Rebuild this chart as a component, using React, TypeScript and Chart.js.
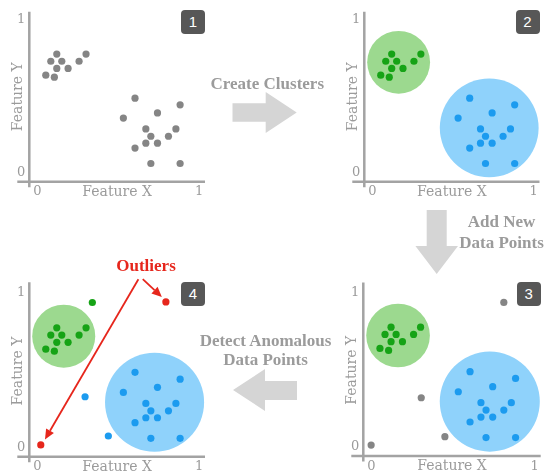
import React, { useEffect, useRef } from "react";
import { Chart, registerables } from "chart.js";

Chart.register(...registerables);

// ---------- data (feature space 0..1) ----------
const tickValues = [0, 1];

const clusterAX = [0.12, 0.083, 0.151, 0.12, 0.19, 0.052, 0.105, 0.258, 0.301];
const clusterAY = [0.774, 0.727, 0.727, 0.68, 0.68, 0.636, 0.623, 0.727, 0.774];

const clusterBX = [0.604, 0.883, 0.532, 0.743, 0.671, 0.857, 0.702, 0.811, 0.671, 0.743, 0.604, 0.702, 0.883];
const clusterBY = [0.486, 0.442, 0.356, 0.389, 0.285, 0.285, 0.237, 0.237, 0.192, 0.192, 0.16, 0.059, 0.059];

// panel 3: new (unlabelled) points
const newPointsX = [0.811, 0.305, 0.45, -0.002];
const newPointsY = [0.934, 0.317, 0.065, 0.011];

// panel 4: classified new points
const newGreenX = [0.34];
const newGreenY = [0.938];
const newBlueX = [0.295, 0.439];
const newBlueY = [0.328, 0.074];
const outlierX = [0.795, 0.021];
const outlierY = [0.942, 0.016];

// cluster circles: centre and radius (in x units)
const circleGreen = { x: 0.163, y: 0.72, r: 0.195 };
const circleBlue = { x: 0.725, y: 0.292, r: 0.3065 };

// outlier annotation arrows (start -> tip)
const outlierArrowStartX = [0.625, 0.652];
const outlierArrowStartY = [1.089, 1.089];
const outlierArrowEndX = [0.047, 0.77];
const outlierArrowEndY = [0.052, 0.974];

// ---------- styles ----------
const X_MIN = -0.05;
const X_MAX = 1.037;
const Y_MIN = -0.06;
const Y_MAX = 1.05;
const PLOT_H = 172;

const TEXT_GRAY = "#9b9b9b";
const AXIS_GRAY = "#a3a3a3";
const POINT_GRAY = "#858585";
const GREEN = "#16a316";
const GREEN_FILL = "#9cd98f";
const BLUE = "#1c9bef";
const BLUE_FILL = "#8fd2fb";
const RED = "#e6261c";
const ARROW_GRAY = "#d5d5d5";

type DS = { xs: number[]; ys: number[]; color: string };
type Circ = { x: number; y: number; r: number; color: string };

interface PanelProps {
  left: number;
  top: number;
  width: number;
  height: number;
  axisX: number;
  axisY: number;
  plotRight: number;
  lineTopExtra: number;
  datasets: DS[];
  circles: Circ[];
  arrows: boolean;
  badge: string;
}

function Panel(p: PanelProps) {
  const ref = useRef<HTMLCanvasElement>(null);
  useEffect(() => {
    const canvas = ref.current;
    if (!canvas) return;
    const plotTop = p.axisY - PLOT_H;
    const tickSize = 13;
    const titleSize = 14;
    const tickLH = tickSize * 1.2;
    const titleLH = titleSize * 1.2;

    const decor = {
      id: "decor",
      beforeDatasetsDraw(chart: any) {
        const { ctx, chartArea, scales } = chart;
        const xs = scales.x;
        const ys = scales.y;
        ctx.save();
        // axes
        ctx.strokeStyle = AXIS_GRAY;
        ctx.lineWidth = 2.5;
        ctx.beginPath();
        ctx.moveTo(chartArea.left, chartArea.top - p.lineTopExtra);
        ctx.lineTo(chartArea.left, chartArea.bottom + 5.5);
        ctx.moveTo(chartArea.left - 12, chartArea.bottom);
        ctx.lineTo(chartArea.right, chartArea.bottom);
        ctx.stroke();
        // circles
        p.circles.forEach((c) => {
          const cx = xs.getPixelForValue(c.x);
          const cy = ys.getPixelForValue(c.y);
          const r = xs.getPixelForValue(c.x + c.r) - cx;
          ctx.fillStyle = c.color;
          ctx.beginPath();
          ctx.arc(cx, cy, r, 0, Math.PI * 2);
          ctx.fill();
        });
        ctx.restore();
      },
      afterDatasetsDraw(chart: any) {
        if (!p.arrows) return;
        const { ctx, scales } = chart;
        const xs = scales.x;
        const ys = scales.y;
        ctx.save();
        ctx.strokeStyle = RED;
        ctx.fillStyle = RED;
        ctx.lineWidth = 1.8;
        outlierArrowStartX.forEach((_, i) => {
          const x1 = xs.getPixelForValue(outlierArrowStartX[i]);
          const y1 = ys.getPixelForValue(outlierArrowStartY[i]);
          const x2 = xs.getPixelForValue(outlierArrowEndX[i]);
          const y2 = ys.getPixelForValue(outlierArrowEndY[i]);
          const ang = Math.atan2(y2 - y1, x2 - x1);
          const hl = 10;
          const hw = 4.5;
          const bx = x2 - hl * Math.cos(ang);
          const by = y2 - hl * Math.sin(ang);
          ctx.beginPath();
          ctx.moveTo(x1, y1);
          ctx.lineTo(bx, by);
          ctx.stroke();
          ctx.beginPath();
          ctx.moveTo(x2, y2);
          ctx.lineTo(bx + hw * Math.sin(ang), by - hw * Math.cos(ang));
          ctx.lineTo(bx - hw * Math.sin(ang), by + hw * Math.cos(ang));
          ctx.closePath();
          ctx.fill();
        });
        ctx.restore();
      },
    };

    const chart = new Chart(canvas, {
      type: "scatter",
      data: {
        datasets: p.datasets.map((d) => ({
          data: d.xs.map((v, i) => ({ x: v, y: d.ys[i] })),
          backgroundColor: d.color,
          borderWidth: 0,
          pointRadius: 3.6,
          pointHoverRadius: 3.6,
          clip: false as any,
        })),
      },
      options: {
        animation: false,
        responsive: false,
        events: [],
        layout: {
          autoPadding: false,
          padding: { left: 0, top: plotTop, right: p.width - p.plotRight, bottom: 0 },
        },
        plugins: { legend: { display: false }, tooltip: { enabled: false } },
        scales: {
          x: {
            type: "linear",
            min: X_MIN,
            max: X_MAX,
            grid: { display: false, drawTicks: false },
            border: { display: false },
            afterFit: (s: any) => {
              s.height = p.height - p.axisY;
            },
            afterBuildTicks: (s: any) => {
              s.ticks = tickValues.map((v) => ({ value: v }));
            },
            ticks: {
              color: TEXT_GRAY,
              font: { family: "DejaVu Serif", size: tickSize },
              padding: 10.3 - tickLH / 2,
              autoSkip: false,
              maxRotation: 0,
              callback: (v: any) => String(v),
            },
            title: {
              display: true,
              text: "Feature X",
              color: TEXT_GRAY,
              font: { family: "DejaVu Serif", size: titleSize },
              padding: { top: 0, bottom: p.height - p.axisY - 10.3 - titleLH / 2 },
            },
          },
          y: {
            type: "linear",
            min: Y_MIN,
            max: Y_MAX,
            grid: { display: false, drawTicks: false },
            border: { display: false },
            afterFit: (s: any) => {
              s.width = p.axisX;
            },
            afterBuildTicks: (s: any) => {
              s.ticks = tickValues.map((v) => ({ value: v }));
            },
            ticks: {
              color: TEXT_GRAY,
              font: { family: "DejaVu Serif", size: tickSize },
              padding: 4,
              autoSkip: false,
              callback: (v: any) => String(v),
            },
            title: {
              display: true,
              text: "Feature Y",
              color: TEXT_GRAY,
              font: { family: "DejaVu Serif", size: titleSize },
              padding: { top: p.axisX - 10.5 - titleLH / 2, bottom: 0 },
            },
          },
        },
      },
      plugins: [decor],
    } as any);
    return () => chart.destroy();
  }, []);

  const plotTop = p.axisY - PLOT_H;
  return (
    <>
      <canvas
        ref={ref}
        width={p.width}
        height={p.height}
        style={{ position: "absolute", left: p.left, top: p.top, width: p.width, height: p.height }}
      />
      <div
        style={{
          position: "absolute",
          left: p.left + p.plotRight - 24,
          top: p.top + plotTop - p.lineTopExtra,
          width: 24,
          height: 24,
          borderRadius: 4,
          background: "#575757",
          color: "#fff",
          font: "15px 'Liberation Sans', Arial, sans-serif",
          lineHeight: "24px",
          textAlign: "center",
        }}
      >
        {p.badge}
      </div>
    </>
  );
}

function Label(props: { cx: number; top: number; lh: number; color: string; lines: string[] }) {
  return (
    <div
      style={{
        position: "absolute",
        left: props.cx - 120,
        width: 240,
        top: props.top,
        textAlign: "center",
        whiteSpace: "nowrap",
        color: props.color,
        font: `bold 17px 'Liberation Serif', 'Times New Roman', serif`,
        lineHeight: props.lh + "px",
      }}
    >
      {props.lines.map((l, i) => (
        <div key={i}>{l}</div>
      ))}
    </div>
  );
}

export default function App() {
  const grayA: DS = { xs: clusterAX, ys: clusterAY, color: POINT_GRAY };
  const grayB: DS = { xs: clusterBX, ys: clusterBY, color: POINT_GRAY };
  const greenA: DS = { xs: clusterAX, ys: clusterAY, color: GREEN };
  const blueB: DS = { xs: clusterBX, ys: clusterBY, color: BLUE };
  const circles: Circ[] = [
    { ...circleGreen, color: GREEN_FILL },
    { ...circleBlue, color: BLUE_FILL },
  ];

  return (
    <div
      style={{
        position: "absolute",
        left: 0,
        top: 0,
        width: 547,
        height: 476,
        overflow: "hidden",
        background: "#ffffff",
      }}
    >
      <Panel left={0} top={0} width={212} height={204} axisX={29.3} axisY={181.7} plotRight={205}
        lineTopExtra={0} datasets={[grayA, grayB]} circles={[]} arrows={false} badge="1" />
      <Panel left={335} top={0} width={212} height={204} axisX={29.3} axisY={181.7} plotRight={204.5}
        lineTopExtra={0} datasets={[greenA, blueB]} circles={circles} arrows={false} badge="2" />
      <Panel left={334} top={252.5} width={213} height={223.5} axisX={29.3} axisY={203.5} plotRight={206.7}
        lineTopExtra={2} datasets={[greenA, blueB, { xs: newPointsX, ys: newPointsY, color: POINT_GRAY }]}
        circles={circles} arrows={false} badge="3" />
      <Panel left={0} top={252.5} width={212} height={223.5} axisX={29.3} axisY={204.2} plotRight={205}
        lineTopExtra={3} datasets={[
          greenA, blueB,
          { xs: newGreenX, ys: newGreenY, color: GREEN },
          { xs: newBlueX, ys: newBlueY, color: BLUE },
          { xs: outlierX, ys: outlierY, color: RED },
        ]}
        circles={circles} arrows={true} badge="4" />

      <svg width={547} height={476} style={{ position: "absolute", left: 0, top: 0, pointerEvents: "none" }}>
        <polygon fill={ARROW_GRAY}
          points="232.5,103.3 265.7,103.3 265.7,92 296.7,112.5 265.7,133 265.7,121.7 232.5,121.7" />
        <polygon fill={ARROW_GRAY}
          points="426.7,210 446.7,210 446.7,246 458,246 436.7,274 415.4,246 426.7,246" />
        <polygon fill={ARROW_GRAY}
          points="297,381 265,381 265,369 233,390 265,411 265,400 297,400" />
      </svg>

      <Label cx={267.3} top={72.5} lh={21} color={TEXT_GRAY} lines={["Create Clusters"]} />
      <Label cx={501.5} top={212.4} lh={20.6} color={TEXT_GRAY} lines={["Add New", "Data Points"]} />
      <Label cx={265.5} top={330.5} lh={19} color={TEXT_GRAY} lines={["Detect Anomalous", "Data Points"]} />
      <Label cx={146} top={254.5} lh={21} color={RED} lines={["Outliers"]} />
    </div>
  );
}
